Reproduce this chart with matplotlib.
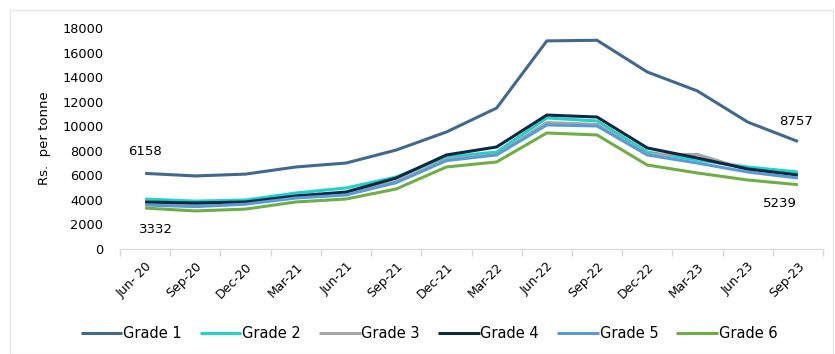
import matplotlib
matplotlib.use("Agg")
import matplotlib.pyplot as plt
from matplotlib.patches import Rectangle
import numpy as np

categories = ["Jun- 20", "Sep-20", "Dec-20", "Mar-21", "Jun-21", "Sep-21", "Dec-21",
              "Mar-22", "Jun-22", "Sep-22", "Dec-22", "Mar-23", "Jun-23", "Sep-23"]
grade1 = [6158, 5950, 6100, 6680, 7000, 8060, 9530, 11480, 16950, 17000, 14420, 12870, 10340, 8757]
grade2 = [4070, 3900, 3990, 4560, 4970, 5860, 7500, 7900, 10670, 10430, 7900, 7250, 6680, 6270]
grade3 = [3750, 3600, 3750, 4300, 4550, 5500, 7300, 7700, 10300, 10150, 7700, 7700, 6450, 5950]
grade4 = [3830, 3750, 3830, 4320, 4640, 5780, 7660, 8310, 10910, 10750, 8230, 7410, 6520, 6030]
grade5 = [3580, 3450, 3650, 4150, 4400, 5400, 7200, 7660, 10100, 10020, 7660, 7000, 6270, 5780]
grade6 = [3332, 3100, 3250, 3830, 4070, 4890, 6680, 7090, 9450, 9290, 6840, 6190, 5620, 5239]
series_names = ["Grade 1", "Grade 2", "Grade 3", "Grade 4", "Grade 5", "Grade 6"]
series = [grade1, grade2, grade3, grade4, grade5, grade6]
colors = ["#41698e", "#1fd3c9", "#a6a6a6", "#0e2841", "#5b9bd5", "#70ad47"]
yticks = [0, 2000, 4000, 6000, 8000, 10000, 12000, 14000, 16000, 18000]

W, H = 835, 354
fig = plt.figure(figsize=(W / 100, H / 100), dpi=100)
fig.patches.append(Rectangle((10 / W, 0), 1 - 10 / W - 2 / W, 1 - 10 / H, transform=fig.transFigure,
                             fill=False, edgecolor="#e6e6e6", linewidth=1.0))
ax = fig.add_axes([120 / W, 1 - 249 / H, (823 - 120) / W, (249 - 28) / H])

x = np.arange(len(categories))
for name, vals, c in zip(series_names, series, colors):
    ax.plot(x, vals, color=c, linewidth=2.2, label=name, solid_capstyle="butt")

ax.set_xlim(-0.5, len(categories) - 0.5)
ax.set_ylim(0, 18000)
ax.set_yticks(yticks)
ax.set_yticklabels([str(v) for v in yticks], fontsize=9.3)
ax.tick_params(axis="y", length=0, pad=12)
ax.set_xticks(x)
ax.set_xticklabels(categories, rotation=45, ha="right", rotation_mode="anchor", fontsize=9)
ax.tick_params(axis="x", length=0, pad=8)
ax.set_xticks(np.arange(-0.5, len(categories), 1), minor=True)
ax.tick_params(axis="x", which="minor", length=5, color="#d9d9d9", width=1)
for s in ["top", "right", "left"]:
    ax.spines[s].set_visible(False)
ax.spines["bottom"].set_color("#d9d9d9")
ax.set_ylabel("Rs.  per tonne", fontsize=9.5, labelpad=8)

ax.annotate("6158", (0, grade1[0]), xytext=(0, 11), textcoords="offset points",
            ha="center", va="bottom", fontsize=9.5)
ax.annotate("3332", (0, grade6[0]), xytext=(8, -11), textcoords="offset points",
            ha="center", va="top", fontsize=9.5)
ax.annotate("8757", (13, grade1[-1]), xytext=(-1, 10), textcoords="offset points",
            ha="center", va="bottom", fontsize=9.5)
ax.annotate("5239", (13, grade6[-1]), xytext=(-13, -9), textcoords="offset points",
            ha="center", va="top", fontsize=9.5)

fig.legend(loc="center", bbox_to_anchor=(429 / W, 1 - 334 / H), ncol=6, frameon=False,
           fontsize=10.5, handlelength=2.85, columnspacing=1.25, handletextpad=0.05,
           borderpad=0, borderaxespad=0)

fig.savefig("out.png", dpi=100)
